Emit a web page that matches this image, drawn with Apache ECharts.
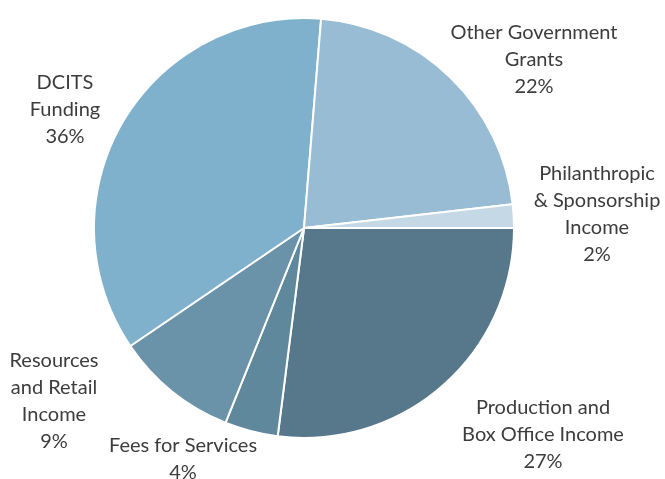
<!DOCTYPE html>
<html>
<head>
<meta charset="utf-8">
<script src="https://cdn.jsdelivr.net/npm/echarts@6/dist/echarts.min.js"></script>
<style>html,body{margin:0;padding:0;background:#fff}#c{width:665px;height:479px}</style>
</head>
<body>
<div id="c"></div>
<script>
var categories = ["Production and\nBox Office Income", "Fees for Services", "Resources\nand Retail\nIncome", "DCITS\nFunding", "Other Government\nGrants", "Philanthropic\n& Sponsorship\nIncome"];
var values = [27, 4.1, 9.4, 35.8, 21.9, 1.8];
var percentLabels = ["27%", "4%", "9%", "36%", "22%", "2%"];
var colors = ["#56788a", "#5f889d", "#6a92a8", "#7fb1cd", "#97bcd4", "#c4d8e5"];
var labelSpots = [[543, 435], [183, 459], [54, 401], [65, 110], [534, 60], [597, 214]];

var chart = echarts.init(document.getElementById('c'), null, {renderer: 'canvas'});
chart.setOption({
  animation: false,
  series: [{
    type: 'pie',
    center: [304, 228],
    radius: [0, 210],
    startAngle: 0,
    clockwise: true,
    avoidLabelOverlap: false,
    itemStyle: {borderColor: '#fff', borderWidth: 2},
    label: {
      show: true,
      position: 'outside',
      color: '#3c3c3c',
      fontFamily: 'Lato',
      fontSize: 20,
      lineHeight: 27,
      align: 'center',
      formatter: function (p) { return p.name + '\n' + percentLabels[p.dataIndex]; }
    },
    labelLine: {show: false},
    labelLayout: function (p) {
      var s = labelSpots[p.dataIndex];
      return {x: s[0], y: s[1], align: 'center', verticalAlign: 'middle'};
    },
    emphasis: {disabled: true},
    data: categories.map(function (c, i) {
      return {name: c, value: values[i], itemStyle: {color: colors[i]}};
    })
  }]
});
</script>
</body>
</html>
